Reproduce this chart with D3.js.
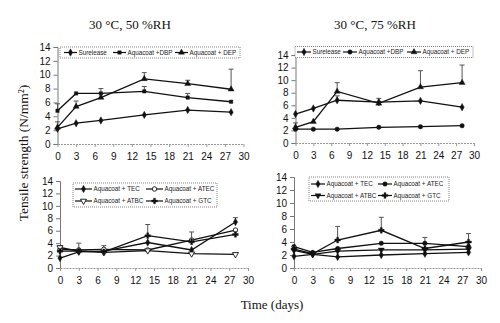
<!DOCTYPE html>
<html>
<head>
<meta charset="utf-8">
<script src="https://cdn.jsdelivr.net/npm/d3@7"></script>
<style>
    body { margin: 0; background: #fff; }
    svg { display: block; }
    .tick-label { font-family: "Liberation Sans", Arial, sans-serif; font-size: 10px; fill: #111; }
    .legend-text { font-family: "Liberation Sans", Arial, sans-serif; font-size: 6.3px; fill: #222; }
    .serif { font-family: "Liberation Serif", "Times New Roman", serif; fill: #111; }
</style>
</head>
<body>
<div id="chart"></div>
<script>
// sampling days and axis ticks
const days = [0, 3, 7, 14, 21, 28];
const xTicks = [0, 3, 6, 9, 12, 15, 18, 21, 24, 27, 30];
const yTicks = [0, 2, 4, 6, 8, 10, 12, 14];

// 30 C / 50 %RH, dispersions
const rh50Surelease = [2.2, 3.0, 3.4, 4.2, 4.9, 4.6];
const rh50SureleaseErr = [0, 0, 0, 0, 0, 0];
const rh50Dbp = [4.8, 7.3, 7.3, 7.6, 6.7, 6.1];
const rh50DbpErr = [1.0, 0, 0.7, 0.7, 0.6, 0];
const rh50Dep = [2.4, 5.4, 6.7, 9.4, 8.7, 7.9];
const rh50DepErr = [0.8, 0.8, 0, 0.9, 0.5, 2.9];

// 30 C / 75 %RH, dispersions
const rh75Surelease = [4.6, 5.5, 6.8, 6.5, 6.7, 5.7];
const rh75SureleaseErr = [0, 0, 0.7, 0.6, 0, 0];
const rh75Dbp = [2.2, 2.2, 2.2, 2.5, 2.6, 2.75];
const rh75DbpErr = [0, 0, 0, 0, 0, 0];
const rh75Dep = [2.5, 3.4, 8.2, 6.3, 8.9, 9.6];
const rh75DepErr = [0.7, 0, 1.4, 0, 2.6, 2.8];

// 30 C / 50 %RH, Aquacoat plasticizers
const rh50Tec = [1.6, 2.6, 2.7, 4.1, 2.9, 7.4];
const rh50TecErr = [0, 0, 0, 0, 0, 0.7];
const rh50Atec = [3.0, 2.9, 3.0, 2.9, 4.5, 6.1];
const rh50AtecErr = [0.6, 1.1, 0.6, 0, 0, 0];
const rh50Atbc = [3.3, 2.7, 2.5, 2.8, 2.3, 2.2];
const rh50AtbcErr = [0, 0, 0, 0, 0, 0];
const rh50Gtc = [2.7, 2.7, 2.6, 5.2, 4.2, 5.4];
const rh50GtcErr = [0, 0, 0, 1.8, 1.6, 0];

// 30 C / 75 %RH, Aquacoat plasticizers
const rh75Tec = [1.8, 2.1, 1.7, 2.0, 2.2, 2.4];
const rh75TecErr = [0, 0, 0, 0, 0, 0];
const rh75Atec = [3.3, 2.4, 3.0, 3.8, 3.8, 3.3];
const rh75AtecErr = [0, 0, 0, 0, 0.9, 0];
const rh75Atbc = [2.7, 2.1, 2.6, 2.8, 2.8, 2.9];
const rh75AtbcErr = [0, 0, 0, 0, 0, 0];
const rh75Gtc = [2.9, 2.2, 4.3, 5.8, 3.0, 4.0];
const rh75GtcErr = [0.4, 0, 2.1, 2.0, 0, 1.3];

const width = 500, height = 323;

let svg = d3.select("#chart")
    .append("svg")
    .attr("width", width)
    .attr("height", height);

let panels = [
    {
        title: "30 \u00b0C, 50 %RH", titleX: 130,
        xr: [57.5, 243.5], yr: [144, 47],
        series: [
            { name: "Surelease", v: rh50Surelease, e: rh50SureleaseErr, sym: "diamond", open: false },
            { name: "Aquacoat +DBP", v: rh50Dbp, e: rh50DbpErr, sym: "square", open: false },
            { name: "Aquacoat + DEP", v: rh50Dep, e: rh50DepErr, sym: "triangle", open: false }
        ],
        legend: { box: [60, 47, 180, 11], cols: [64, 113, 175], rows: [52.5], len: 13, layout: "row" }
    },
    {
        title: "30 \u00b0C, 75 %RH", titleX: 375,
        xr: [295.5, 474], yr: [143, 55],
        series: [
            { name: "Surelease", v: rh75Surelease, e: rh75SureleaseErr, sym: "diamond", open: false },
            { name: "Aquacoat +DBP", v: rh75Dbp, e: rh75DbpErr, sym: "circle", open: false },
            { name: "Aquacoat + DEP", v: rh75Dep, e: rh75DepErr, sym: "triangle", open: false }
        ],
        legend: { box: [295, 46.5, 178, 11], cols: [297, 343, 407], rows: [52], len: 14, layout: "row" }
    },
    {
        xr: [60, 248], yr: [268, 181],
        series: [
            { name: "Aquacoat + TEC", v: rh50Tec, e: rh50TecErr, sym: "diamond", open: false },
            { name: "Aquacoat + ATEC", v: rh50Atec, e: rh50AtecErr, sym: "circle", open: true },
            { name: "Aquacoat + ATBC", v: rh50Atbc, e: rh50AtbcErr, sym: "down", open: true },
            { name: "Aquacoat + GTC", v: rh50Gtc, e: rh50GtcErr, sym: "cross", open: false }
        ],
        legend: { box: [73, 183, 144, 24], cols: [75, 146], rows: [189, 201], len: 17, layout: "grid" }
    },
    {
        xr: [294, 481], yr: [268, 177],
        series: [
            { name: "Aquacoat + TEC", v: rh75Tec, e: rh75TecErr, sym: "diamond", open: false },
            { name: "Aquacoat + ATEC", v: rh75Atec, e: rh75AtecErr, sym: "circle", open: false },
            { name: "Aquacoat + ATBC", v: rh75Atbc, e: rh75AtbcErr, sym: "down", open: false },
            { name: "Aquacoat + GTC", v: rh75Gtc, e: rh75GtcErr, sym: "cross", open: false }
        ],
        legend: { box: [309, 177, 140, 24], cols: [311, 378], rows: [184, 195.5], len: 14, layout: "grid" }
    }
];

// marker shapes
function symbolPath(sym) {
    let types = {
        diamond: [d3.symbolDiamond, 16],
        square: [d3.symbolSquare, 12],
        triangle: [d3.symbolTriangle, 16],
        down: [d3.symbolTriangle, 16],
        circle: [d3.symbolCircle, 16],
        cross: [d3.symbolCross, 18]
    };
    let t = types[sym];
    return d3.symbol().type(t[0]).size(t[1])();
}

function drawMarker(g, sym, open, x, y) {
    g.append("path")
        .attr("d", symbolPath(sym))
        .attr("transform", "translate(" + x + "," + y + ")" + (sym === "down" ? " rotate(180)" : ""))
        .attr("fill", open ? "#fff" : "#111")
        .attr("stroke", "#111")
        .attr("stroke-width", open ? 0.9 : 0.4);
}

panels.forEach(function (p) {
    let x = d3.scaleLinear().domain([0, 30]).range(p.xr);
    let y = d3.scaleLinear().domain([0, 14]).range(p.yr);
    let g = svg.append("g");

    if (p.title) {
        g.append("text")
            .attr("class", "serif")
            .attr("x", p.titleX)
            .attr("y", 29)
            .attr("text-anchor", "middle")
            .style("font-size", "13px")
            .text(p.title);
    }

    // y axis
    let yAxis = d3.axisLeft(y).tickValues(yTicks).tickSize(4).tickPadding(3);
    let ya = g.append("g")
        .attr("transform", "translate(" + p.xr[0] + ",0)")
        .call(yAxis);
    ya.select(".domain").attr("stroke", "#777");
    ya.selectAll(".tick line").attr("stroke", "#777");
    ya.selectAll(".tick text").attr("class", "tick-label").attr("font-size", null).attr("font-family", null);

    // x axis
    let xAxis = d3.axisBottom(x).tickValues(xTicks).tickSize(3).tickPadding(6).tickSizeOuter(0);
    let xa = g.append("g")
        .attr("transform", "translate(0," + p.yr[0] + ")")
        .call(xAxis);
    xa.select(".domain").attr("stroke", "#999").attr("stroke-dasharray", "2,1");
    xa.selectAll(".tick line").attr("stroke", "#999");
    xa.selectAll(".tick text").attr("class", "tick-label").attr("font-size", null).attr("font-family", null);

    let line = d3.line()
        .x(function (d, i) { return x(days[i]); })
        .y(function (d) { return y(d); });

    p.series.forEach(function (s) {
        // error bars, upper side only
        s.e.forEach(function (err, i) {
            if (err <= 0) return;
            let cx = x(days[i]);
            g.append("line")
                .attr("x1", cx).attr("x2", cx)
                .attr("y1", y(s.v[i])).attr("y2", y(s.v[i] + err))
                .attr("stroke", "#555").attr("stroke-width", 1);
            g.append("line")
                .attr("x1", cx - 2.5).attr("x2", cx + 2.5)
                .attr("y1", y(s.v[i] + err)).attr("y2", y(s.v[i] + err))
                .attr("stroke", "#555").attr("stroke-width", 1);
        });

        g.append("path")
            .datum(s.v)
            .attr("d", line)
            .attr("fill", "none")
            .attr("stroke", "#111")
            .attr("stroke-width", 1.3);

        s.v.forEach(function (v, i) {
            drawMarker(g, s.sym, s.open, x(days[i]), y(v));
        });
    });

    // legend
    let L = p.legend;
    g.append("rect")
        .attr("x", L.box[0]).attr("y", L.box[1])
        .attr("width", L.box[2]).attr("height", L.box[3])
        .attr("fill", "#fff")
        .attr("stroke", "#666")
        .attr("stroke-width", 0.8)
        .attr("stroke-dasharray", "1,1");

    p.series.forEach(function (s, i) {
        let lx, ly;
        if (L.layout === "row") {
            lx = L.cols[i]; ly = L.rows[0];
        } else {
            lx = L.cols[i % 2]; ly = L.rows[Math.floor(i / 2)];
        }
        g.append("line")
            .attr("x1", lx).attr("x2", lx + L.len)
            .attr("y1", ly).attr("y2", ly)
            .attr("stroke", "#111").attr("stroke-width", 1.2);
        drawMarker(g, s.sym, s.open, lx + L.len / 2, ly);
        g.append("text")
            .attr("class", "legend-text")
            .attr("x", lx + L.len + 1.5)
            .attr("y", ly + 2.3)
            .text(s.name);
    });
});

// shared axis titles
svg.append("text")
    .attr("class", "serif")
    .attr("transform", "translate(28,153) rotate(-90)")
    .attr("text-anchor", "middle")
    .style("font-size", "13.5px")
    .text("Tensile strength (N/mm\u00b2)");

svg.append("text")
    .attr("class", "serif")
    .attr("x", 272)
    .attr("y", 309)
    .attr("text-anchor", "middle")
    .style("font-size", "13px")
    .text("Time (days)");
</script>
</body>
</html>
